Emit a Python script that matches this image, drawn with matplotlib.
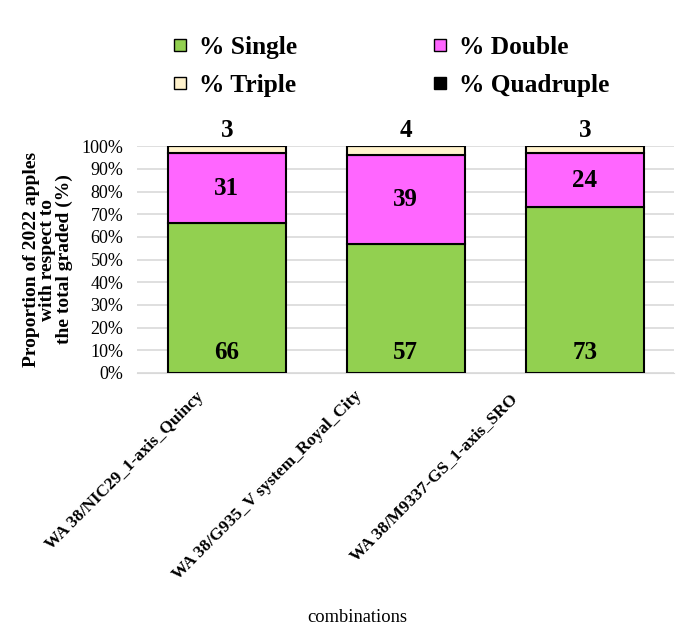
import numpy as np
import matplotlib.pyplot as plt
from matplotlib.lines import Line2D
from matplotlib.transforms import ScaledTranslation

combos = ["WA 38/NIC29_1-axis_Quincy", "WA 38/G935_V system_Royal_City", "WA 38/M9337-GS_1-axis_SRO"]
single = [66, 57, 73]
double = [31, 39, 24]
triple = [3, 4, 3]
quadruple = [0, 0, 0]

series = [("% Single", single, "#92D050"),
          ("% Double", double, "#FF66FF"),
          ("% Triple", triple, "#FFF2CC"),
          ("% Quadruple", quadruple, "#000000")]

plt.rcParams['font.family'] = ['Liberation Serif', 'DejaVu Serif']

fig = plt.figure(figsize=(6.93, 6.3), dpi=100)
ax = fig.add_axes([0.198, 0.408, 0.775, 0.36])

x = np.arange(len(combos))
bottom = np.zeros(len(combos))
colors = {}
for name, vals, col in series:
    vals = np.array(vals, dtype=float)
    ax.bar(x, vals, 0.66, bottom=bottom, color=col, edgecolor="black",
           linewidth=1.5, label=name, zorder=3)
    colors[name] = col
    bottom = bottom + vals

# data labels
for i in range(len(combos)):
    ax.text(x[i], 9, str(single[i]), ha="center", va="center",
            fontsize=18, fontweight="bold", zorder=4)
    ax.text(x[i], single[i] + double[i] / 2, str(double[i]), ha="center",
            va="center", fontsize=18, fontweight="bold", zorder=4)
    ax.text(x[i], 100 + 2, str(triple[i]), ha="center", va="bottom",
            fontsize=18, fontweight="bold", zorder=4)

ax.set_xlim(-0.5, 2.5)
ax.set_ylim(0, 100)
ax.set_yticks(np.arange(0, 101, 10))
ax.set_yticklabels([f"{v}%" for v in range(0, 101, 10)], fontsize=13)
ax.yaxis.grid(True, color="#D9D9D9", linewidth=1.2, zorder=0)
ax.set_axisbelow(True)
for s in ["top", "right", "left"]:
    ax.spines[s].set_visible(False)
ax.spines["bottom"].set_color("#D9D9D9")
ax.tick_params(axis="both", length=0)
ax.tick_params(axis="y", pad=10)

ax.set_xticks(x)
ax.set_xticklabels(combos, rotation=45, ha="right", va="center",
                   rotation_mode="anchor", fontsize=12.4, fontweight="bold")
ax.tick_params(axis="x", pad=0)
# excel-like placement of the slanted labels (pixel shifts)
shifts = [(-25, -21), (-46, -20), (-70, -24)]
for lab, (dx, dy) in zip(ax.get_xticklabels(), shifts):
    lab.set_transform(lab.get_transform() +
                      ScaledTranslation(dx / 100, dy / 100, fig.dpi_scale_trans))

ax.set_ylabel("Proportion of 2022 apples\nwith respect to\nthe total graded (%)",
              fontsize=14, fontweight="bold", labelpad=6, linespacing=0.95)
fig.text(0.515, 0.02, "combinations", ha="center", va="center", fontsize=13.3)

order = ["% Single", "% Triple", "% Double", "% Quadruple"]
marks = [Line2D([], [], linestyle="none", marker="s", markersize=8.5,
                markerfacecolor=colors[n], markeredgecolor="black",
                markeredgewidth=1.0) for n in order]
fig.legend(handles=marks, labels=order, ncol=2,
           loc="center", bbox_to_anchor=(0.565, 0.895), frameon=False,
           prop={"size": 18.3, "weight": "bold"}, handlelength=0.5,
           handletextpad=0.5, columnspacing=5.4, labelspacing=0.59)

fig.savefig("out.png", dpi=100)
